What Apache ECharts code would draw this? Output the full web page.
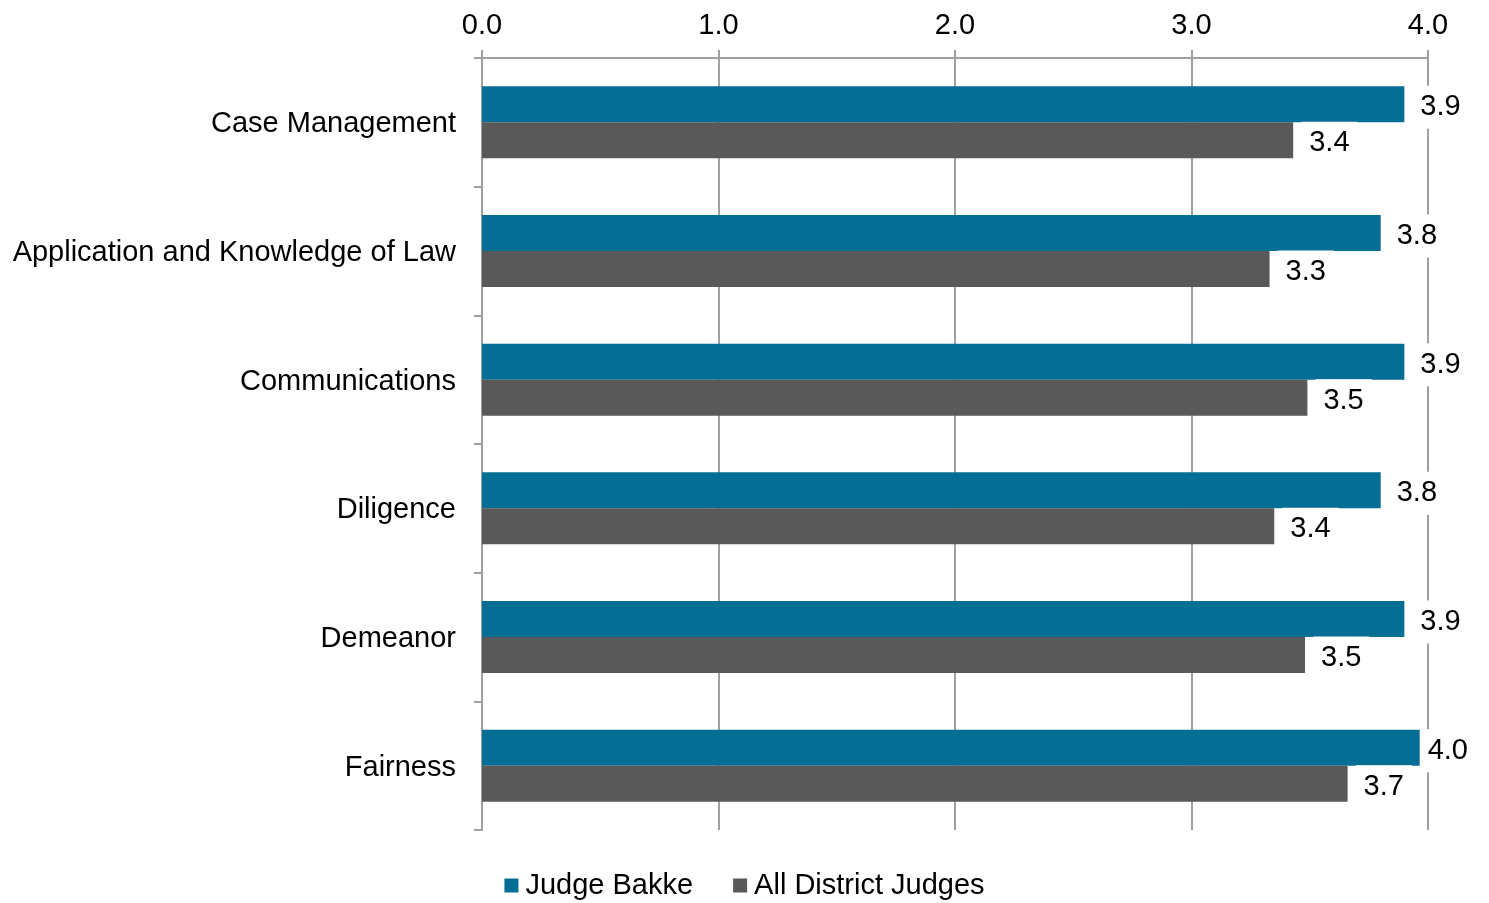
<!DOCTYPE html>
<html>
<head>
<meta charset="utf-8">
<script src="https://cdn.jsdelivr.net/npm/echarts@6/dist/echarts.min.js"></script>
<style>
html,body{margin:0;padding:0;background:#fff;}
#chart{width:1489px;height:903px;}
</style>
</head>
<body>
<div id="chart"></div>
<script>
const categories = ["Case Management","Application and Knowledge of Law","Communications","Diligence","Demeanor","Fairness"];
const judgeBakke = [3.9, 3.8, 3.9, 3.8, 3.9, 3.97];
const allDistrict = [3.43, 3.33, 3.49, 3.35, 3.48, 3.66];
const seriesNames = ["Judge Bakke", "All District Judges"];
const xTicks = [0, 1, 2, 3, 4];

const FONT = '"Liberation Sans", Arial, sans-serif';
const AXIS_GREY = '#a0a0a0';
const FS = 29;
const LABEL_RIGHT_LIMIT = 1476;

const chart = echarts.init(document.getElementById('chart'), null, {renderer:'canvas'});
const labelCfg = {
  show: true,
  position: 'right',
  distance: 8,
  formatter: p => p.value.toFixed(1),
  fontFamily: FONT,
  fontSize: FS,
  lineHeight: 30,
  color: '#000',
  backgroundColor: '#fff',
  padding: [7, 8, 6, 8]
};
const keepInside = params => {
  const r = params.labelRect;
  const right = r.x + r.width;
  const out = {dy: 3};
  if (right > LABEL_RIGHT_LIMIT) out.dx = LABEL_RIGHT_LIMIT - right;
  return out;
};
chart.setOption({
  animation: false,
  textStyle: {fontFamily: FONT},
  grid: {left: 482, right: 61, top: 58, bottom: 73, containLabel: false},
  legend: {
    bottom: -2,
    left: 'center',
    itemWidth: 14,
    itemHeight: 14,
    itemGap: 40,
    icon: 'rect',
    textStyle: {fontFamily: FONT, fontSize: FS, color: '#000', padding: [0,0,0,2]},
    data: seriesNames
  },
  xAxis: {
    type: 'value',
    position: 'top',
    min: xTicks[0],
    max: xTicks[xTicks.length - 1],
    interval: 1,
    axisLine: {show: true, lineStyle: {color: AXIS_GREY, width: 2}},
    axisTick: {show: true, length: 8, lineStyle: {color: AXIS_GREY, width: 2}},
    splitLine: {show: true, lineStyle: {color: AXIS_GREY, width: 2}},
    axisLabel: {
      formatter: v => v.toFixed(1),
      fontFamily: FONT, fontSize: FS, color: '#000', margin: 18
    }
  },
  yAxis: {
    type: 'category',
    inverse: true,
    data: categories,
    axisLine: {show: true, lineStyle: {color: AXIS_GREY, width: 2}},
    axisTick: {show: true, length: 8, lineStyle: {color: AXIS_GREY, width: 2}},
    axisLabel: {
      fontFamily: FONT, fontSize: FS, color: '#000', margin: 26,
      formatter: v => '{c|' + v + '}',
      rich: {c: {fontFamily: FONT, fontSize: FS, color: '#000', padding: [4, 0, 0, 0]}}
    }
  },
  series: [
    {
      name: seriesNames[0],
      type: 'bar',
      data: judgeBakke,
      barWidth: 36,
      barGap: '0%',
      itemStyle: {color: '#046E94'},
      label: labelCfg,
      labelLayout: keepInside
    },
    {
      name: seriesNames[1],
      type: 'bar',
      data: allDistrict,
      barWidth: 36,
      barGap: '0%',
      itemStyle: {color: '#595959'},
      label: labelCfg,
      labelLayout: keepInside
    }
  ]
});
</script>
</body>
</html>
